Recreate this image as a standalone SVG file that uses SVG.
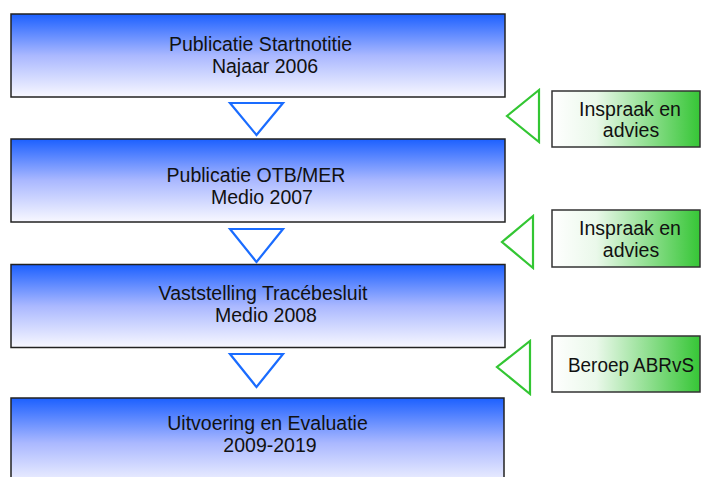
<svg xmlns="http://www.w3.org/2000/svg" width="701" height="477" viewBox="0 0 701 477">
<defs>
<linearGradient id="gb" x1="0" y1="0" x2="0" y2="1">
<stop offset="0" stop-color="#1c60ff"/>
<stop offset="0.5" stop-color="#aab8ff"/>
<stop offset="1" stop-color="#f8f8ff"/>
</linearGradient>
<linearGradient id="gg" x1="0" y1="0" x2="1" y2="0">
<stop offset="0" stop-color="#ffffff"/>
<stop offset="0.3" stop-color="#eaf8ea"/>
<stop offset="1" stop-color="#36c636"/>
</linearGradient>
<style>
.box{fill:url(#gb);stroke:#222;stroke-width:1.5}
.gbox{fill:url(#gg);stroke:#333;stroke-width:1.5}
.tri{fill:none;stroke:#1a6cff;stroke-width:2.2;stroke-linejoin:miter}
.gtri{fill:none;stroke:#33c633;stroke-width:2.2;stroke-linejoin:miter}
text{font-family:"Liberation Sans",Arial,sans-serif;font-size:19.5px;fill:#111;text-anchor:middle}
</style>
</defs>
<rect width="701" height="477" fill="#fff"/>
<g id="n1">
<rect class="box" x="11" y="14" width="494" height="83"/>
<text x="260.5" y="51">Publicatie Startnotitie</text>
<text x="265" y="73">Najaar 2006</text>
</g>
<g id="n2">
<rect class="box" x="11" y="139" width="494" height="83"/>
<text x="256" y="182">Publicatie OTB/MER</text>
<text x="262" y="204">Medio 2007</text>
</g>
<g id="n3">
<rect class="box" x="11" y="264.5" width="494" height="83"/>
<text x="263" y="300">Vaststelling Tracébesluit</text>
<text x="266" y="322">Medio 2008</text>
</g>
<g id="n4">
<rect class="box" x="11" y="398" width="493" height="90"/>
<text x="267.5" y="430">Uitvoering en Evaluatie</text>
<text x="270" y="452">2009-2019</text>
</g>
<g id="g1">
<rect class="gbox" x="552" y="91" width="148" height="56"/>
<text x="630" y="116">Inspraak en</text>
<text x="631" y="137">advies</text>
</g>
<g id="g2">
<rect class="gbox" x="552" y="210" width="148" height="57"/>
<text x="630" y="235">Inspraak en</text>
<text x="631" y="257">advies</text>
</g>
<g id="g3">
<rect class="gbox" x="552" y="336" width="148" height="56"/>
<text x="631" y="372" textLength="126" lengthAdjust="spacingAndGlyphs">Beroep ABRvS</text>
</g>
<g id="connectors">
<polygon class="tri" points="230,103 283,103 256.5,135"/>
<polygon class="tri" points="230,229 283,229 256.5,262"/>
<polygon class="tri" points="230,354 283,354 256.5,387"/>
<polygon class="gtri" points="539,90 539,142 507,116"/>
<polygon class="gtri" points="533,216 533,268 502,242"/>
<polygon class="gtri" points="530,341 530,394 497,367"/>
</g>
</svg>
